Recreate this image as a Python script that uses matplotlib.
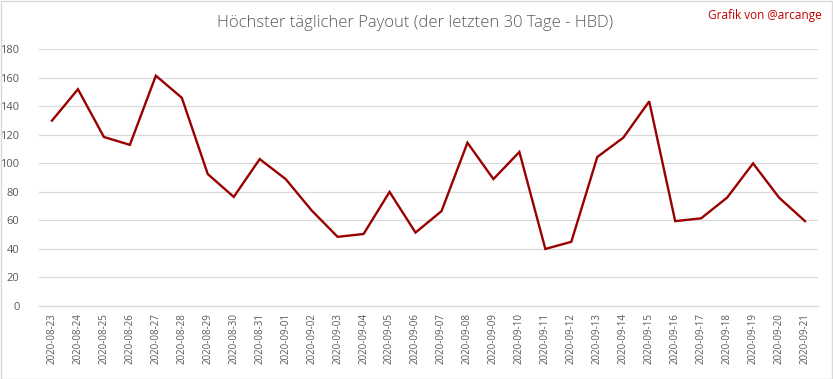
import matplotlib
matplotlib.use("Agg")
import matplotlib.pyplot as plt
from matplotlib.patches import Rectangle

dates = ["2020-08-23", "2020-08-24", "2020-08-25", "2020-08-26", "2020-08-27", "2020-08-28",
         "2020-08-29", "2020-08-30", "2020-08-31", "2020-09-01", "2020-09-02", "2020-09-03",
         "2020-09-04", "2020-09-05", "2020-09-06", "2020-09-07", "2020-09-08", "2020-09-09",
         "2020-09-10", "2020-09-11", "2020-09-12", "2020-09-13", "2020-09-14", "2020-09-15",
         "2020-09-16", "2020-09-17", "2020-09-18", "2020-09-19", "2020-09-20", "2020-09-21"]
payout = [130, 152, 118.5, 113, 161.5, 146, 92.5, 76.5, 103, 89,
          67, 48.5, 50.5, 80, 51.5, 66.5, 114.5, 89, 108, 40,
          45, 104.5, 118, 143.5, 59.5, 61.5, 76, 100, 76, 59.5]
yticks = [0, 20, 40, 60, 80, 100, 120, 140, 160, 180]

plt.rcParams['font.family'] = ['Open Sans', 'DejaVu Sans']

fig = plt.figure(figsize=(8.33, 3.79), dpi=100)
fig.patches.append(Rectangle((0.5/833, 0.5/379), 1 - 1.5/833, 1 - 1.5/379, transform=fig.transFigure,
                             fill=False, edgecolor='#D9D9D9', linewidth=1.0))
ax = fig.add_axes([39/833, 1 - 306/379, (818 - 39)/833, (306 - 49.3)/379])

x = list(range(len(dates)))
ax.plot(x, payout, color='#990000', linewidth=1.7, solid_joinstyle='miter')

ax.set_xlim(-0.5, len(dates) - 0.5)
ax.set_ylim(0, 180)
ax.set_yticks(yticks)
ax.set_yticklabels([str(v) for v in yticks], fontsize=8, color='#595959')
ax.set_xticks(x)
ax.set_xticklabels(dates, rotation=90, fontsize=7, color='#595959')
ax.tick_params(axis='both', length=0)
ax.tick_params(axis='y', pad=14)
ax.tick_params(axis='x', pad=5)
ax.grid(axis='y', color='#D9D9D9', linewidth=0.9)
ax.set_axisbelow(True)
for s in ['left', 'right', 'top']:
    ax.spines[s].set_visible(False)
ax.spines['bottom'].set_color('#D9D9D9')
ax.spines['bottom'].set_linewidth(0.9)

fig.text(415/833, 1 - 23/379, "Höchster täglicher Payout (der letzten 30 Tage - HBD)",
         ha='center', va='center', fontsize=12, color='#595959', fontweight='light')
fig.text(822/833, 1 - 15/379, "Grafik von @arcange", ha='right', va='center',
         fontsize=8.5, color='#C00000')

fig.savefig("out.png", dpi=100)
